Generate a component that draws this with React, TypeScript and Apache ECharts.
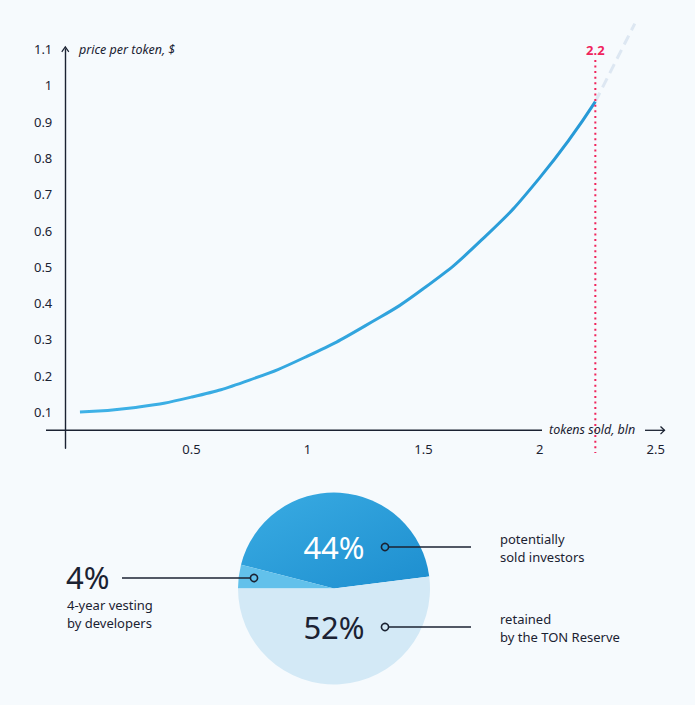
import React, { useEffect, useRef } from 'react';
import * as echarts from 'echarts';

// ---- data ----
const tokensSold = [0.02, 0.25, 0.5, 0.75, 1.0, 1.25, 1.5, 1.75, 2.0, 2.24];
const pricePerToken = [0.1, 0.112, 0.141, 0.188, 0.254, 0.338, 0.44, 0.574, 0.745, 0.955];
const projectionX = [2.24, 2.41];
const projectionY = [0.955, 1.17];
const saleCutoff = 2.24;
const cutoffSpan = [1.07, -0.013];
const xTickLabels = ['0.5', '1', '1.5', '2', '2.5'];
const yTickLabels = ['0.1', '0.2', '0.3', '0.4', '0.5', '0.6', '0.7', '0.8', '0.9', '1', '1.1'];
const shareNames = ['potentially\nsold investors', '4-year vesting\nby developers', 'retained\nby the TON Reserve'];
const shareValues = [44, 4, 52];

const BG = '#f6fafd';
const INK = '#1b2232';
const PINK = '#f0245c';
const FONT = 'Noto Sans';
const CHEVRON = 'path://M0,7 L5,0 L10,7 L8.8,8 L5,2.6 L1.2,8 Z';

export default function App() {
  const ref = useRef<HTMLDivElement>(null);
  useEffect(() => {
    if (!ref.current) return;
    const chart = echarts.init(ref.current, undefined, { renderer: 'svg' });

    const fmt = (labels: string[]) => (v: number) => {
      const s = String(Math.round(v * 10) / 10);
      return labels.indexOf(s) >= 0 ? s : '';
    };

    const pieCenter = [334, 588.5];
    const startAngle = 180 - ((shareValues[0] + shareValues[1]) / 100) * 360;

    const annText = (
      text: string,
      x: number,
      y: number,
      align: string,
      size: number,
      color: string,
      italic = false
    ) => ({
      type: 'text',
      x,
      y,
      z: 100,
      silent: true,
      style: {
        text,
        fill: color,
        fontSize: size,
        fontFamily: FONT,
        fontStyle: italic ? 'italic' : 'normal',
        align,
        verticalAlign: 'middle',
        lineHeight: size > 20 ? size : 18,
      },
    });
    const dot = (x: number, y: number) => ({
      type: 'circle',
      z: 100,
      silent: true,
      shape: { cx: x, cy: y, r: 3.6 },
      style: { fill: 'none', stroke: INK, lineWidth: 1.6 },
    });
    const hline = (x1: number, x2: number, y: number) => ({
      type: 'line',
      z: 100,
      silent: true,
      shape: { x1, y1: y, x2, y2: y },
      style: { stroke: INK, lineWidth: 1.6 },
    });

    const option: any = {
      animation: false,
      backgroundColor: BG,
      textStyle: { fontFamily: FONT },
      grid: { left: 75.3, right: 39.3, top: 49, bottom: 256.7, containLabel: false },
      xAxis: {
        type: 'value',
        min: 0,
        max: 2.5,
        interval: 0.5,
        offset: -18,
        axisLine: { show: false, onZero: false },
        axisTick: { show: false },
        splitLine: { show: false },
        axisLabel: { margin: 12, fontSize: 13, color: INK, fontFamily: FONT, formatter: fmt(xTickLabels) },
      },
      yAxis: {
        type: 'value',
        min: 0,
        max: 1.1,
        interval: 0.1,
        offset: 10,
        axisLine: {
          show: true,
          onZero: false,
          symbol: ['none', CHEVRON],
          symbolSize: [8, 7],
          lineStyle: { color: INK, width: 1.4 },
        },
        axisTick: { show: false },
        splitLine: { show: false },
        axisLabel: { margin: 13, fontSize: 13, color: INK, fontFamily: FONT, formatter: fmt(yTickLabels) },
      },
      series: [
        {
          type: 'line',
          data: tokensSold.map((x, i) => [x, pricePerToken[i]]),
          smooth: 0.5,
          symbol: 'none',
          clip: false,
          silent: true,
          z: 3,
          lineStyle: {
            width: 3,
            color: new echarts.graphic.LinearGradient(0, 0, 1, 0, [
              { offset: 0, color: '#3fb2e7' },
              { offset: 1, color: '#2699d6' },
            ]),
          },
        },
        {
          type: 'line',
          data: projectionX.map((x, i) => [x, projectionY[i]]),
          symbol: 'none',
          clip: false,
          silent: true,
          z: 2,
          lineStyle: { width: 3, color: '#dde7f2', type: [10, 6] },
        },
        {
          type: 'line',
          data: cutoffSpan.map((y) => [saleCutoff, y]),
          symbol: 'circle',
          symbolSize: 0,
          showSymbol: true,
          clip: false,
          silent: true,
          z: 4,
          lineStyle: { color: PINK, type: [2, 3.6], width: 2, cap: 'butt' },
          itemStyle: { color: PINK },
          label: {
            show: true,
            position: 'top',
            distance: 3,
            formatter: (p: any) => (p.dataIndex === 0 ? saleCutoff.toFixed(1) : ''),
            color: PINK,
            fontSize: 13,
            fontWeight: 'bold',
            fontFamily: FONT,
          },
        },
        {
          type: 'pie',
          center: pieCenter,
          radius: 96,
          startAngle,
          clockwise: false,
          silent: true,
          z: 2,
          label: { show: false },
          labelLine: { show: false },
          data: [
            {
              value: shareValues[0],
              name: shareNames[0],
              itemStyle: {
                color: new echarts.graphic.LinearGradient(0, 0, 1, 1, [
                  { offset: 0, color: '#3aace3' },
                  { offset: 1, color: '#1d8ecf' },
                ]),
              },
            },
            { value: shareValues[1], name: shareNames[1], itemStyle: { color: '#62c1eb' } },
            { value: shareValues[2], name: shareNames[2], itemStyle: { color: '#d3e9f6' } },
          ],
        },
      ],
      graphic: [
        // axis titles and x axis line
        annText('price per token, $', 79, 49, 'left', 12.5, INK, true),
        {
          type: 'line',
          silent: true,
          z: 100,
          shape: { x1: 46, y1: 430.3, x2: 542, y2: 430.3 },
          style: { stroke: INK, lineWidth: 1.4 },
        },
        annText('tokens sold, bln', 549, 429.5, 'left', 12.5, INK, true),
        {
          type: 'line',
          silent: true,
          z: 100,
          shape: { x1: 645, y1: 430.3, x2: 664.5, y2: 430.3 },
          style: { stroke: INK, lineWidth: 1.3 },
        },
        {
          type: 'polyline',
          silent: true,
          z: 100,
          shape: { points: [[660.5, 426.5], [664.5, 430.3], [660.5, 434.1]] },
          style: { stroke: INK, lineWidth: 1.3, fill: 'none' },
        },
        // pie annotations
        annText(shareValues[0] + '%', pieCenter[0], 547, 'center', 31, '#ffffff'),
        annText(shareValues[2] + '%', pieCenter[0], 627, 'center', 31, INK),
        annText(shareValues[1] + '%', 66, 577, 'left', 31, INK),
        dot(385, 547),
        hline(388.6, 471, 547),
        dot(385, 627),
        hline(388.6, 471, 627),
        dot(254, 578),
        hline(122, 250.4, 578),
        annText(shareNames[0], 500, 548, 'left', 13, INK),
        annText(shareNames[2], 500, 627.5, 'left', 13, INK),
        annText(shareNames[1], 67, 613.5, 'left', 13, INK),
      ],
    };

    chart.setOption(option);
    return () => chart.dispose();
  }, []);

  return (
    <div
      ref={ref}
      style={{ position: 'fixed', left: 0, top: 0, width: 695, height: 705, background: BG }}
    />
  );
}
